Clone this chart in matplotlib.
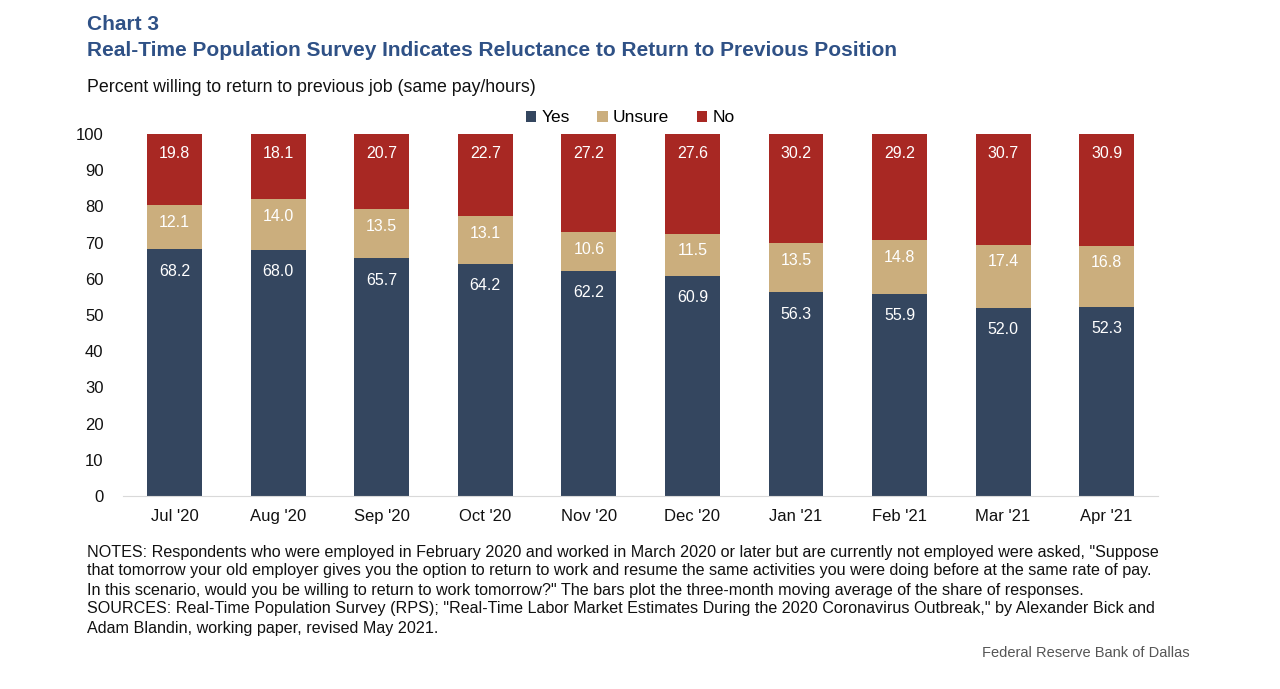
import matplotlib.pyplot as plt
import numpy as np

plt.rcParams['font.family'] = ['Liberation Sans', 'DejaVu Sans']

months = ["Jul '20", "Aug '20", "Sep '20", "Oct '20", "Nov '20",
          "Dec '20", "Jan '21", "Feb '21", "Mar '21", "Apr '21"]
yes = [68.2, 68.0, 65.7, 64.2, 62.2, 60.9, 56.3, 55.9, 52.0, 52.3]
unsure = [12.1, 14.0, 13.5, 13.1, 10.6, 11.5, 13.5, 14.8, 17.4, 16.8]
no = [19.8, 18.1, 20.7, 22.7, 27.2, 27.6, 30.2, 29.2, 30.7, 30.9]

navy = '#34465f'
tan = '#cbae7d'
red = '#a82823'
title_blue = '#2f5186'

fig = plt.figure(figsize=(12.8, 6.89), dpi=100)
ax = fig.add_axes([0.096, 0.280, 0.809, 0.5255])

x = np.arange(len(months))
w = 0.53
yes = np.array(yes)
unsure = np.array(unsure)
no = np.array(no)

ax.bar(x, yes, w, color=navy, label='Yes')
ax.bar(x, unsure, w, bottom=yes, color=tan, label='Unsure')
ax.bar(x, no, w, bottom=yes + unsure, color=red, label='No')

# labels sit near the top of each segment
for vals, bottoms, off in [(yes, np.zeros(len(x)), -22),
                           (unsure, yes, -17),
                           (no, yes + unsure, -19)]:
    for i in range(len(x)):
        top = min(bottoms[i] + vals[i], 100)
        ax.annotate(f'{vals[i]:.1f}', (x[i], top), xytext=(0, off),
                    textcoords='offset pixels', ha='center', va='center',
                    color='white', fontsize=11.5)

ax.set_xlim(-0.5, len(x) - 0.5)
ax.set_ylim(0, 100)
ax.set_yticks(range(0, 101, 10))
ax.set_xticks(x)
ax.set_xticklabels(months)
ax.tick_params(axis='both', length=0, labelsize=12, colors='#111111')
ax.tick_params(axis='x', pad=9)
ax.tick_params(axis='y', pad=14)
for s in ['top', 'right', 'left']:
    ax.spines[s].set_visible(False)
ax.spines['bottom'].set_color('#d9d9d9')
ax.spines['bottom'].set_linewidth(0.8)

ax.legend(ncol=3, loc='lower center', bbox_to_anchor=(0.49, 1.0),
          frameon=False, fontsize=12.5, handlelength=0.6, handleheight=0.6,
          handletextpad=0.3, columnspacing=1.6, borderaxespad=0.1)

fig.text(87 / 1280, 1 - 25 / 689, 'Chart 3', fontsize=15, fontweight='bold',
         color=title_blue, va='center', ha='left')
fig.text(87 / 1280, 1 - 51 / 689,
         'Real-Time Population Survey Indicates Reluctance to Return to Previous Position',
         fontsize=15, fontweight='bold', color=title_blue, va='center', ha='left')
fig.text(87 / 1280, 1 - 88 / 689,
         'Percent willing to return to previous job (same pay/hours)',
         fontsize=12.8, color='#111111', va='center', ha='left')

notes = [
    'NOTES: Respondents who were employed in February 2020 and worked in March 2020 or later but are currently not employed were asked, "Suppose',
    'that tomorrow your old employer gives you the option to return to work and resume the same activities you were doing before at the same rate of pay.',
    'In this scenario, would you be willing to return to work tomorrow?" The bars plot the three-month moving average of the share of responses.',
    'SOURCES: Real-Time Population Survey (RPS); "Real-Time Labor Market Estimates During the 2020 Coronavirus Outbreak," by Alexander Bick and',
    'Adam Blandin, working paper, revised May 2021.',
]
for k, line in enumerate(notes):
    fig.text(87 / 1280, 1 - (552 + k * 19) / 689, line, fontsize=11.6,
             color='#111111', va='center', ha='left')

fig.text(1190 / 1280, 1 - 653 / 689, 'Federal Reserve Bank of Dallas',
         fontsize=10.5, color='#555555', va='center', ha='right')

fig.savefig('out.png', dpi=100)
